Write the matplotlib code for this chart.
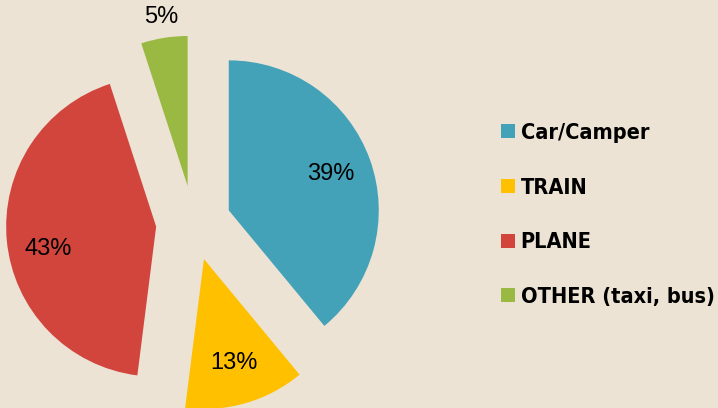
import numpy as np
import matplotlib.pyplot as plt
from matplotlib.patches import Patch

labels = ['Car/Camper', 'TRAIN', 'PLANE', 'OTHER (taxi, bus)']
shares = [39, 13, 43, 5]
colors = ['#43A2B8', '#FFC000', '#D1453D', '#99B942']
bg = '#ECE3D4'

fig = plt.figure(figsize=(7.18, 4.08), dpi=100, facecolor=bg)
ax = fig.add_axes([0, 0, 1, 1])
ax.set_facecolor(bg)

explode = [0.25] * len(shares)
wedges, texts, autotexts = ax.pie(
    shares, colors=colors, explode=explode, startangle=90, counterclock=False,
    autopct='%d%%', pctdistance=0.72, radius=1,
    wedgeprops=dict(linewidth=0),
    textprops=dict(fontsize=17, color='black', family='Liberation Sans'))

# small slice: label sits outside the wedge
w = wedges[3]
ang = np.deg2rad((w.theta1 + w.theta2) / 2)
autotexts[3].set_position((np.cos(ang) * (0.25 + 1.14), np.sin(ang) * (0.25 + 1.14)))

# plane label sits a bit lower in the original
x, y = autotexts[2].get_position()
autotexts[2].set_position((x, y - 0.08))

ax.set_xlim(-1.29, 3.497)
ax.set_ylim(-1.233, 1.487)
ax.set_aspect('auto')
ax.axis('off')

handles = [Patch(facecolor=c, edgecolor='none') for c in colors]
leg = ax.legend(handles, labels, loc='center left', bbox_to_anchor=(0.686, 0.473),
                frameon=False, handlelength=0.62, handleheight=0.62, handletextpad=0.28,
                labelspacing=1.6, borderaxespad=0,
                prop=dict(family='DejaVu Sans', stretch='condensed', weight='bold', size=15.6))

fig.savefig('out.png', dpi=100, facecolor=bg)
